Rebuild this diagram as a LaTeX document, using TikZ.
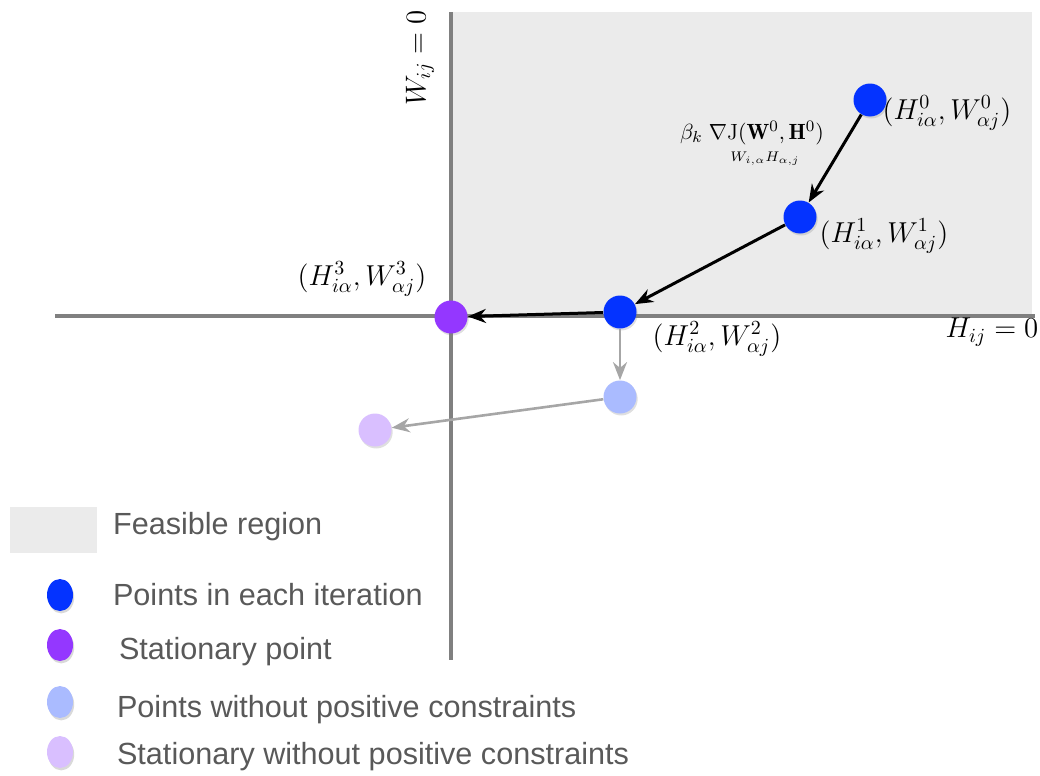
\documentclass[tikz,border=0pt]{standalone}
\usepackage{amsmath,amssymb}
\usepackage{fontspec}
\setsansfont{Liberation Sans}
\usepackage{xcolor}
\usepackage{tikz}
\usetikzlibrary{arrows.meta,shadows,shapes.geometric}
\definecolor{IterBlue}{RGB}{4,51,255}
\definecolor{StatPurple}{RGB}{148,55,255}
\definecolor{FreeBlue}{RGB}{170,187,255}
\definecolor{FreePurple}{RGB}{217,191,255}
\definecolor{RegionBg}{RGB}{235,235,235}
\definecolor{AxisGray}{RGB}{128,128,128}
\definecolor{PathGray}{RGB}{166,166,166}
\definecolor{LegendInk}{RGB}{89,89,89}
\tikzset{
  dot/.style={circle,minimum size=16.5pt,inner sep=0pt,draw=none,
              drop shadow={shadow xshift=0.6pt,shadow yshift=-1pt,opacity=0.25}},
  keydot/.style={ellipse,minimum width=13pt,minimum height=16pt,inner sep=0pt,
              drop shadow={shadow xshift=0.6pt,shadow yshift=-1.2pt,opacity=0.3}},
  axis/.style={AxisGray,line width=2.4pt},
  step arrow/.style={-{Stealth[length=9pt,width=7pt]},line width=1.5pt,black},
  free arrow/.style={-{Stealth[length=9pt,width=7pt]},line width=1.3pt,PathGray},
  ptlabel/.style={font=\fontsize{14}{16}\selectfont,inner sep=1pt},
  keytext/.style={anchor=west,text=LegendInk,font=\sffamily\fontsize{15.3}{18}\selectfont}
}
\begin{document}
\begin{tikzpicture}[x=0.5pt,y=-0.5pt]
  \useasboundingbox (0,0) rectangle (1040,776);
  % feasible region and axes
  \fill[RegionBg] (452,12) rectangle (1032,314);
  \draw[axis] (55,316) -- (1035,316);
  \draw[axis] (451,12) -- (451,660);
  \node[ptlabel,rotate=90] (wzero) at (420,58) {$W_{ij}=0$};
  \node[ptlabel] (hzero) at (992,332) {$H_{ij}=0$};

  % iterates
  \node[dot,fill=IterBlue] (p0) at (870,100) {};
  \node[dot,fill=IterBlue] (p1) at (800,217) {};
  \node[dot,fill=IterBlue] (p2) at (620,312) {};
  \node[dot,fill=StatPurple] (p3) at (451,317) {};
  \node[dot,fill=FreeBlue] (q1) at (620,397) {};
  \node[dot,fill=FreePurple] (q2) at (375,430) {};

  \node[ptlabel] (l0) at (947,113) {$(H^0_{i\alpha},W^0_{\alpha j})$};
  \node[ptlabel] (l1) at (884,236) {$(H^1_{i\alpha},W^1_{\alpha j})$};
  \node[ptlabel] (l2) at (717,339) {$(H^2_{i\alpha},W^2_{\alpha j})$};
  \node[ptlabel] (l3) at (362,279) {$(H^3_{i\alpha},W^3_{\alpha j})$};

  \node[font=\fontsize{11}{13}\selectfont,inner sep=1pt] (grad) at (752,133)
    {$\beta_k\;\nabla\mathrm{J}(\mathbf{W}^0,\mathbf{H}^0)$};
  \node[font=\fontsize{7.5}{9}\selectfont,inner sep=1pt] (gradsub) at (765,159)
    {$W_{i,\alpha}H_{\alpha,j}$};

  \draw[step arrow] (p0) -- (p1);
  \draw[step arrow] (p1) -- (p2);
  \draw[step arrow] (p2) -- (p3);
  \draw[free arrow] (p2) -- (q1);
  \draw[free arrow] (q1) -- (q2);

  % legend
  \fill[RegionBg] (10,507) rectangle (97,553);
  \node[keytext] (k0) at (106,527) {Feasible region};
  \node[keydot,fill=IterBlue] (d1) at (60,595) {};
  \node[keytext] (k1) at (106,595) {Points in each iteration};
  \node[keydot,fill=StatPurple] (d2) at (60,645) {};
  \node[keytext] (k2) at (112,652) {Stationary point};
  \node[keydot,fill=FreeBlue] (d3) at (60,702) {};
  \node[keytext] (k3) at (110,710) {Points without positive constraints};
  \node[keydot,fill=FreePurple] (d4) at (60,752) {};
  \node[keytext] (k4) at (110,757) {Stationary without positive constraints};
\end{tikzpicture}
\end{document}
